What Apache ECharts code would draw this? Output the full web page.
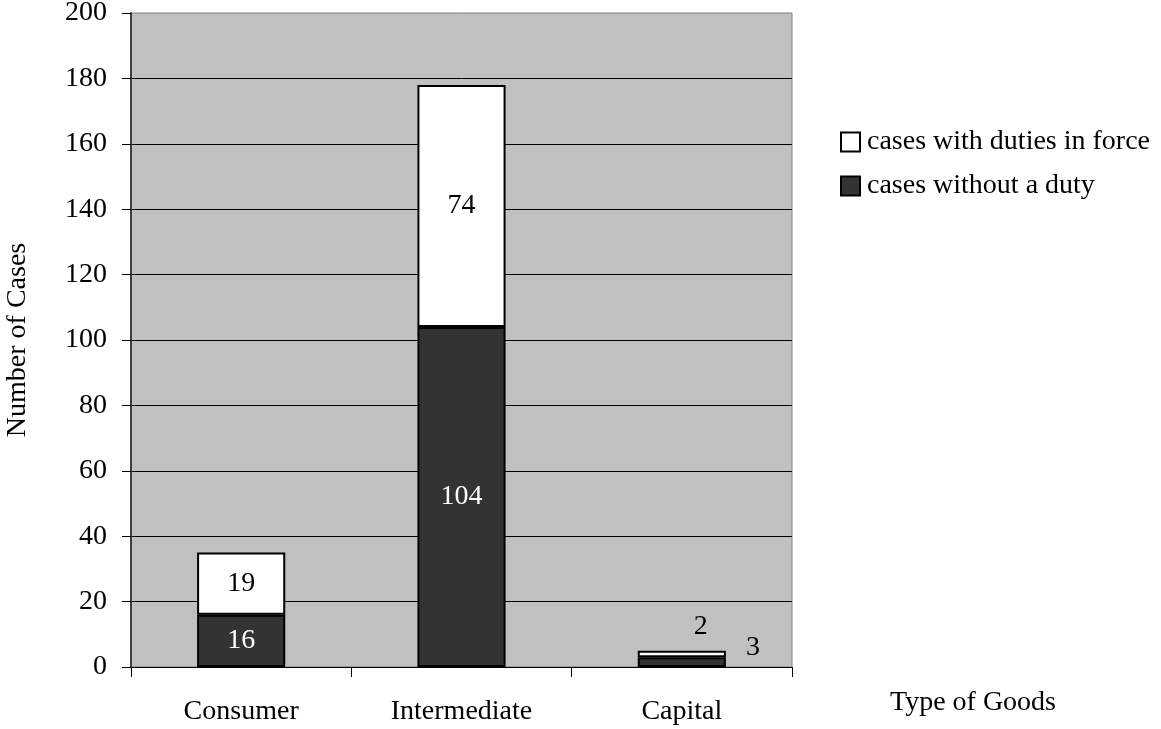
<!DOCTYPE html>
<html>
<head>
<meta charset="utf-8">
<style>
  html, body { margin: 0; padding: 0; background: #ffffff; }
  #chart { width: 1161px; height: 729px; }
</style>
<script src="https://cdn.jsdelivr.net/npm/echarts@6/dist/echarts.min.js"></script>
</head>
<body>
<div id="chart"></div>
<script>
// Anti-dumping cases by type of goods
const categories = ['Consumer', 'Intermediate', 'Capital'];
const withoutDuty = [16, 104, 3];
const withDuty = [19, 74, 2];
const seriesNames = ['cases with duties in force', 'cases without a duty'];
const yTicks = { min: 0, max: 200, interval: 20 };

const FONT = 'Liberation Serif, Times New Roman, serif';
const FS = 28;

// Capital's thin segments carry their labels beside/above the bar
const darkData = withoutDuty.map((v, i) => i === 2
  ? { value: v, label: { position: 'right', distance: 20, offset: [0, -14], color: '#000000' } }
  : v);
const whiteData = withDuty.map((v, i) => i === 2
  ? { value: v, label: { position: 'top', distance: 10, offset: [19, 0] } }
  : v);

const chart = echarts.init(document.getElementById('chart'));
chart.setOption({
  animation: false,
  backgroundColor: '#ffffff',
  textStyle: { fontFamily: FONT, color: '#000000' },
  grid: {
    left: 131, right: 369, top: 13, bottom: 62,
    containLabel: false,
    outerBoundsMode: 'none',
    show: true, backgroundColor: '#c0c0c0',
    borderColor: '#808080', borderWidth: 1
  },
  legend: {
    orient: 'vertical',
    left: 840, top: 128,
    padding: 0,
    icon: 'rect',
    itemWidth: 19, itemHeight: 19, itemGap: 16,
    data: seriesNames,
    textStyle: { fontFamily: FONT, fontSize: FS, color: '#000000', lineHeight: 28, padding: [0, 0, 0, 2] }
  },
  xAxis: {
    type: 'category',
    data: categories,
    name: 'Type of Goods',
    nameLocation: 'end',
    nameGap: 98,
    nameTextStyle: { fontFamily: FONT, fontSize: FS, color: '#000000', align: 'left', verticalAlign: 'top', padding: [22, 0, 0, 0] },
    axisLine: { lineStyle: { color: '#000000', width: 1 } },
    axisTick: { show: true, alignWithLabel: false, length: 10, lineStyle: { color: '#000000' } },
    axisLabel: { fontFamily: FONT, fontSize: FS, color: '#000000', margin: 31 },
    splitLine: { show: false }
  },
  yAxis: {
    type: 'value',
    min: yTicks.min, max: yTicks.max, interval: yTicks.interval,
    name: 'Number of Cases',
    nameLocation: 'middle',
    nameGap: 99,
    nameTextStyle: { fontFamily: FONT, fontSize: FS, color: '#000000' },
    axisLine: { show: true, lineStyle: { color: '#404040', width: 2 } },
    axisTick: { show: true, length: 9, lineStyle: { color: '#000000' } },
    axisLabel: { fontFamily: FONT, fontSize: FS, color: '#000000', margin: 24 },
    splitLine: { show: true, showMaxLine: false, lineStyle: { color: '#000000', width: 1 } }
  },
  series: [
    {
      name: seriesNames[1],
      type: 'bar',
      stack: 'cases',
      barWidth: '40%',
      data: darkData,
      itemStyle: { color: '#333333', borderColor: '#000000', borderWidth: 2 },
      label: { show: true, position: 'inside', fontFamily: FONT, fontSize: FS, color: '#ffffff' }
    },
    {
      name: seriesNames[0],
      type: 'bar',
      stack: 'cases',
      barWidth: '40%',
      data: whiteData,
      itemStyle: { color: '#ffffff', borderColor: '#000000', borderWidth: 2 },
      label: { show: true, position: 'inside', fontFamily: FONT, fontSize: FS, color: '#000000' }
    }
  ]
});
</script>
</body>
</html>
